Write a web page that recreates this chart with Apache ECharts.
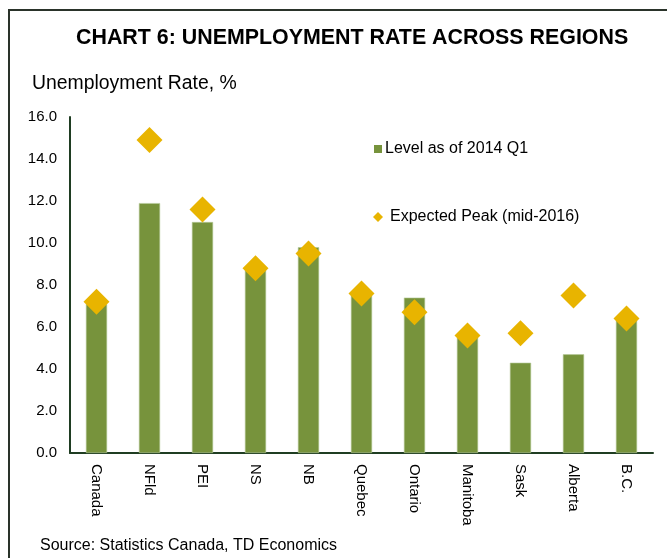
<!DOCTYPE html>
<html>
<head>
<meta charset="utf-8">
<script src="https://cdn.jsdelivr.net/npm/echarts@6/dist/echarts.min.js"></script>
<style>
  html, body { margin: 0; padding: 0; background: #fff; }
  #main { width: 667px; height: 558px; }
</style>
</head>
<body>
<div id="main"></div>
<script>
// regions along the x axis
var regions = ['Canada', 'NFld', 'PEI', 'NS', 'NB', 'Quebec', 'Ontario', 'Manitoba', 'Sask', 'Alberta', 'B.C.'];
// unemployment rate, 2014 Q1 (%)
var level2014 = [7.1, 11.9, 11.0, 8.8, 9.8, 7.6, 7.4, 5.5, 4.3, 4.7, 6.4];
// expected peak, mid-2016 (%)
var peak2016 = [7.2, 14.9, 11.6, 8.8, 9.5, 7.6, 6.7, 5.6, 5.7, 7.5, 6.4];

var myChart = echarts.init(document.getElementById('main'));

var font = 'Liberation Sans, Arial, sans-serif';
var axisGreen = '#1f3d22';

var option = {
    animation: false,
    backgroundColor: '#fff',
    textStyle: { fontFamily: font, color: '#000' },
    title: [{
        text: 'CHART 6: UNEMPLOYMENT RATE ACROSS REGIONS',
        left: 76,
        top: 28,
        padding: 0,
        textStyle: { fontSize: 21.4, fontWeight: 'bold', color: '#000', fontFamily: font }
    }, {
        text: 'Unemployment Rate, %',
        left: 32,
        top: 74,
        padding: 0,
        textStyle: { fontSize: 19.4, fontWeight: 'normal', color: '#000', fontFamily: font }
    }, {
        text: 'Source: Statistics Canada, TD Economics',
        left: 40,
        top: 538,
        padding: 0,
        textStyle: { fontSize: 16, fontWeight: 'normal', color: '#000', fontFamily: font }
    }],
    legend: [{
        data: ['Level as of 2014 Q1'],
        left: 369,
        top: 136,
        icon: 'rect',
        itemWidth: 8,
        itemHeight: 8,
        itemStyle: { borderWidth: 0 },
        textStyle: { fontSize: 16, color: '#000', fontFamily: font, padding: [0, 0, 0, -2] }
    }, {
        data: ['Expected Peak (mid-2016)'],
        left: 368,
        top: 204,
        icon: 'diamond',
        itemWidth: 10,
        itemHeight: 10,
        textStyle: { fontSize: 16, color: '#000', fontFamily: font, padding: [0, 0, 0, 2] }
    }],
    grid: { left: 70, right: 14, top: 117, bottom: 105, containLabel: false },
    xAxis: {
        type: 'category',
        data: regions,
        axisLine: { lineStyle: { color: axisGreen, width: 2 } },
        axisTick: { show: false },
        axisLabel: { rotate: -90, fontSize: 15, color: '#000', margin: 11, fontFamily: font }
    },
    yAxis: {
        type: 'value',
        min: 0,
        max: 16,
        interval: 2,
        axisLine: { show: true, lineStyle: { color: axisGreen, width: 2 } },
        axisTick: { show: false },
        splitLine: { show: false },
        axisLabel: {
            fontSize: 15, color: '#000', margin: 13, fontFamily: font,
            formatter: function (v) { return v.toFixed(1); }
        }
    },
    series: [{
        name: 'Level as of 2014 Q1',
        type: 'bar',
        data: level2014,
        barWidth: '40%',
        itemStyle: { color: '#77933c', borderColor: '#b7c99a', borderWidth: 0.6 }
    }, {
        name: 'Expected Peak (mid-2016)',
        type: 'scatter',
        data: peak2016,
        symbol: 'diamond',
        symbolSize: [26, 26],
        itemStyle: { color: '#e8b400', opacity: 1 },
        z: 5
    }],
    graphic: [{
        type: 'line',
        shape: { x1: 8, y1: 10, x2: 667, y2: 10 },
        style: { stroke: '#2a332a', lineWidth: 2 }
    }, {
        type: 'line',
        shape: { x1: 9, y1: 9, x2: 9, y2: 558 },
        style: { stroke: '#2a332a', lineWidth: 2 }
    }]
};

myChart.setOption(option);
</script>
</body>
</html>
